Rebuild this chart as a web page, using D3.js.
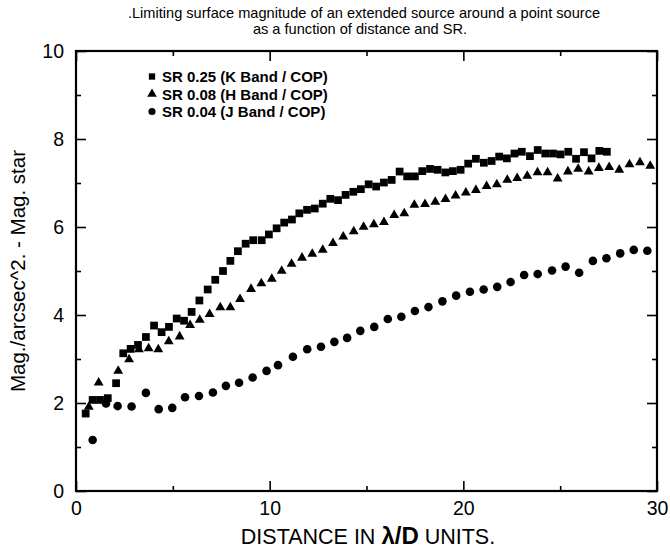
<!DOCTYPE html>
<html><head><meta charset="utf-8">
<script src="https://cdn.jsdelivr.net/npm/d3@7"></script>
<style>body{margin:0;background:#fff}svg{display:block}text{font-family:"Liberation Sans",Arial,Helvetica,sans-serif}</style>
</head><body><svg id="c" width="670" height="549"></svg>
<script>
const titleLines = [".Limiting surface magnitude of an extended source around a point source", "as a function of distance and SR."];
const seriesNames = ["SR 0.25 (K Band / COP)", "SR 0.08 (H Band / COP)", "SR 0.04 (J Band / COP)"];
const xMajorTicks = [0, 10, 20, 30];
const xMinorTicks = [5, 15, 25];
const yMajorTicks = [0, 2, 4, 6, 8, 10];
const yMinorTicks = [1, 3, 5, 7, 9];

const kX = [0.5,0.86,1.24,1.64,2.07,2.44,2.82,3.2,3.61,4.03,4.42,4.8,5.2,5.58,5.97,6.37,6.8,7.19,7.59,7.97,8.36,8.76,9.15,9.59,9.96,10.36,10.75,11.15,11.53,11.93,12.33,12.74,13.13,13.53,13.92,14.32,14.71,15.11,15.5,15.9,16.3,16.71,17.1,17.5,17.88,18.28,18.67,19.07,19.46,19.86,20.25,20.65,21.06,21.46,21.85,22.25,22.64,23.02,23.44,23.84,24.23,24.63,25.02,25.42,25.82,26.23,26.62,27.02,27.41];
const kY = [1.76,2.07,2.07,2.11,2.45,3.13,3.23,3.32,3.5,3.76,3.61,3.73,3.92,3.87,4.07,4.33,4.58,4.8,5.0,5.23,5.45,5.62,5.7,5.7,5.83,5.97,6.1,6.17,6.31,6.39,6.42,6.53,6.64,6.61,6.73,6.8,6.86,6.97,6.92,7.01,7.07,7.26,7.15,7.15,7.27,7.32,7.3,7.24,7.27,7.3,7.44,7.55,7.46,7.5,7.6,7.56,7.67,7.71,7.61,7.75,7.67,7.67,7.65,7.71,7.55,7.7,7.56,7.73,7.71];

const hX = [0.66,1.17,2.18,2.74,3.25,3.75,4.25,4.79,5.35,5.89,6.39,6.9,7.45,7.97,8.47,9.04,9.57,10.11,10.62,11.13,11.67,12.2,12.74,13.27,13.8,14.34,14.85,15.38,15.9,16.43,16.95,17.47,18.02,18.55,19.08,19.6,20.13,20.65,21.2,21.73,22.27,22.78,23.3,23.83,24.35,24.87,25.4,25.93,26.47,27.0,27.53,28.05,28.58,29.12,29.65];
const hY = [1.91,2.46,2.73,2.99,3.22,3.24,3.22,3.4,3.51,3.77,3.89,4.02,4.17,4.17,4.36,4.59,4.72,4.82,5.0,5.16,5.3,5.39,5.48,5.63,5.78,5.9,6.0,6.06,6.11,6.27,6.31,6.5,6.52,6.57,6.63,6.71,6.78,6.84,6.93,6.97,7.07,7.11,7.16,7.24,7.24,7.1,7.26,7.32,7.26,7.34,7.36,7.3,7.42,7.47,7.39];

const jX = [0.86,1.55,2.15,2.87,3.61,4.27,4.97,5.63,6.35,7.07,7.74,8.42,9.12,9.84,10.43,11.2,11.94,12.65,13.34,14.0,14.68,15.4,16.1,16.8,17.5,18.2,18.92,19.63,20.34,21.05,21.75,22.44,23.14,23.84,24.58,25.28,25.98,26.69,27.39,28.1,28.8,29.5];
const jY = [1.16,1.99,1.93,1.92,2.23,1.86,1.89,2.13,2.16,2.24,2.39,2.46,2.58,2.73,2.86,3.05,3.22,3.28,3.39,3.48,3.64,3.73,3.91,3.96,4.09,4.18,4.31,4.44,4.53,4.58,4.64,4.75,4.91,4.93,5.01,5.1,4.96,5.23,5.29,5.4,5.48,5.46];

const svg = d3.select("#c");
const L = 76, R = 657, T = 51, B = 491;
const x = d3.scaleLinear().domain([0, 30]).range([L, R]);
const y = d3.scaleLinear().domain([0, 10]).range([B, T]);

// title
svg.append("text").attr("x", 364).attr("y", 18).attr("text-anchor", "middle").attr("font-size", 14.6).text(titleLines[0]);
svg.append("text").attr("x", 360).attr("y", 33.5).attr("text-anchor", "middle").attr("font-size", 14.6).text(titleLines[1]);

// axes with inward ticks
function ax(gen, tx, ty, vals, len) {
  const g = svg.append("g").attr("transform", `translate(${tx},${ty})`)
    .call(gen.tickValues(vals).tickSizeInner(len).tickSizeOuter(0).tickFormat(""));
  g.select(".domain").remove();
  g.selectAll(".tick line").attr("stroke", "#000").attr("stroke-width", 1.6);
  return g;
}
ax(d3.axisBottom(x), 0, B, xMajorTicks, -10);
ax(d3.axisBottom(x), 0, B, xMinorTicks, -5);
ax(d3.axisTop(x), 0, T, xMajorTicks, -10);
ax(d3.axisTop(x), 0, T, xMinorTicks, -5);
ax(d3.axisLeft(y), L, 0, yMajorTicks, -10);
ax(d3.axisLeft(y), L, 0, yMinorTicks, -5);
ax(d3.axisRight(y), R, 0, yMajorTicks, -10);
ax(d3.axisRight(y), R, 0, yMinorTicks, -5);

// tick labels
const xl = svg.append("g").attr("transform", `translate(0,${B})`)
  .call(d3.axisBottom(x).tickValues(xMajorTicks).tickSize(0).tickPadding(10));
xl.select(".domain").remove();
xl.selectAll("text").attr("font-size", 19.5).attr("font-family", '"Liberation Sans",Arial,sans-serif').attr("fill", "#000");
const yl = svg.append("g").attr("transform", `translate(${L},0)`)
  .call(d3.axisLeft(y).tickValues(yMajorTicks).tickSize(0).tickPadding(12));
yl.select(".domain").remove();
yl.selectAll("text").attr("font-size", 19.5).attr("font-family", '"Liberation Sans",Arial,sans-serif').attr("fill", "#000");

// frame
svg.append("rect").attr("x", L).attr("y", T).attr("width", R - L).attr("height", B - T)
  .attr("fill", "none").attr("stroke", "#000").attr("stroke-width", 2.2);

// axis labels
svg.append("text").attr("transform", `translate(25,${(T + B) / 2}) rotate(-90)`).attr("text-anchor", "middle")
  .attr("font-size", 20.5).text("Mag./arcsec^2. - Mag. star");
const xt = svg.append("text").attr("x", 368).attr("y", 544).attr("text-anchor", "middle").attr("font-size", 21.5);
xt.append("tspan").text("DISTANCE IN  ");
xt.append("tspan").attr("font-weight", "bold").attr("font-size", 24).text("λ/D");
xt.append("tspan").text(" UNITS.");

// marks
const sq = d3.symbol().type(d3.symbolSquare).size(60);
const tri = d3.symbol().type(d3.symbolTriangle).size(42);
const cir = d3.symbol().type(d3.symbolCircle).size(58);
const series = [
  {xs: kX, ys: kY, sym: sq},
  {xs: hX, ys: hY, sym: tri},
  {xs: jX, ys: jY, sym: cir}
];
series.forEach(s => {
  svg.append("g").selectAll("path").data(d3.range(s.xs.length)).join("path")
    .attr("d", s.sym)
    .attr("transform", i => `translate(${x(s.xs[i])},${y(s.ys[i])})`)
    .attr("fill", "#000");
});

// legend
const lg = svg.append("g");
[d3.symbolSquare, d3.symbolTriangle, d3.symbolCircle].forEach((type, i) => {
  const yy = 76.5 + i * 17.5;
  lg.append("path").attr("d", d3.symbol().type(type).size(40))
    .attr("transform", `translate(152,${yy})`).attr("fill", "#000");
  lg.append("text").attr("x", 162).attr("y", yy + 5.5).attr("font-size", 15).attr("font-weight", "bold").text(seriesNames[i]);
});
</script></body></html>
